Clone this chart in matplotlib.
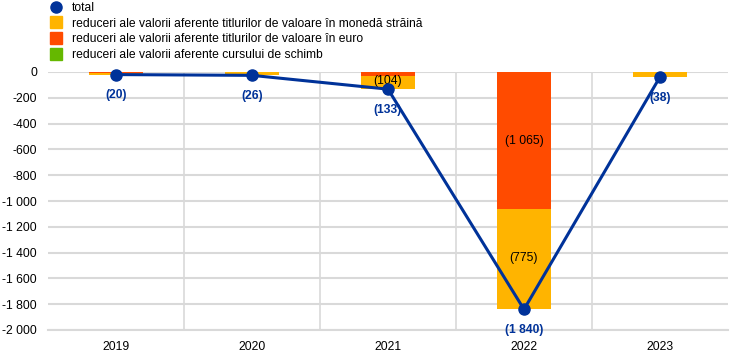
import numpy as np
import matplotlib.pyplot as plt
from matplotlib.lines import Line2D
from matplotlib.ticker import FuncFormatter

plt.rcParams['font.family'] = ['Liberation Sans', 'DejaVu Sans']

years = ['2019', '2020', '2021', '2022', '2023']
euro_sec = [-6, 0, -29, -1065, 0]        # reduceri titluri in euro
foreign_sec = [-14, -20, -104, -775, -38]  # reduceri titluri in moneda straina
fx = [0, -6, 0, 0, 0]                    # reduceri curs de schimb
total = [-20, -26, -133, -1840, -38]

c_total = '#003299'
c_foreign = '#ffb400'
c_euro = '#ff4b00'
c_fx = '#65b800'

fig = plt.figure(figsize=(7.44, 3.55), dpi=100)
ax = fig.add_axes([48 / 744, 1 - 330 / 355, 680 / 744, 258 / 355])

x = np.arange(len(years))
w = 0.4
euro = np.array(euro_sec)
foreign = np.array(foreign_sec)
fxv = np.array(fx)

ax.bar(x, euro, w, color=c_euro, zorder=2)
ax.bar(x, foreign, w, bottom=euro, color=c_foreign, zorder=2)
ax.bar(x, fxv, w, bottom=euro + foreign, color=c_fx, zorder=2)

def fmt(v):
    return '({:,})'.format(int(abs(v))).replace(',', ' ')

# segment labels for the larger pieces
for i in range(len(years)):
    if abs(euro[i]) >= 100:
        ax.text(x[i], euro[i] / 2, fmt(euro[i]), ha='center', va='center', fontsize=8.7, color='black', zorder=4)
    if abs(foreign[i]) >= 100:
        ax.text(x[i], euro[i] + foreign[i] / 2 + 10, fmt(foreign[i]), ha='center', va='center', fontsize=8.7, color='black', zorder=4)

ax.plot(x, total, color=c_total, lw=2.2, marker='o', ms=8, zorder=5, clip_on=False)
for i, v in enumerate(total):
    ax.annotate(fmt(v), (x[i], v), xytext=(0, -15), textcoords='offset points',
                ha='center', va='center', fontsize=8.7, fontweight='bold', color=c_total, zorder=6)

ax.set_xlim(-0.5, len(years) - 0.5)
ax.set_ylim(-2000, 0)
ax.set_yticks(np.arange(-2000, 1, 200))
ax.yaxis.set_major_formatter(FuncFormatter(lambda v, p: '{:,}'.format(int(v)).replace(',', ' ')))
ax.set_xticks(x)
ax.set_xticklabels(years)

ax.grid(axis='y', color='#d9d9d9', lw=1.5, zorder=0)
for s in np.arange(0.5, len(years) - 0.5, 1):
    ax.axvline(s, color='#d9d9d9', lw=1.2, zorder=0)
for sp in ['top', 'right', 'left']:
    ax.spines[sp].set_visible(False)
ax.spines['bottom'].set_color('#d9d9d9')
ax.spines['bottom'].set_linewidth(1.5)
ax.tick_params(length=0, labelsize=8.7, colors='black')
ax.tick_params(axis='x', pad=8)
ax.tick_params(axis='y', pad=8)

handles = [
    Line2D([], [], marker='o', ls='none', color=c_total, ms=8),
    Line2D([], [], marker='s', ls='none', color=c_foreign, ms=8),
    Line2D([], [], marker='s', ls='none', color=c_euro, ms=8),
    Line2D([], [], marker='s', ls='none', color=c_fx, ms=8),
]
labels = ['total',
          'reduceri ale valorii aferente titlurilor de valoare în monedă străină',
          'reduceri ale valorii aferente titlurilor de valoare în euro',
          'reduceri ale valorii aferente cursului de schimb']
fig.legend(handles, labels, loc='upper left', bbox_to_anchor=(44 / 744, 1.008), frameon=False,
           fontsize=8.7, handletextpad=0.7, labelspacing=0.3, borderaxespad=0, handlelength=1.2)

fig.savefig('out.png', dpi=100)
